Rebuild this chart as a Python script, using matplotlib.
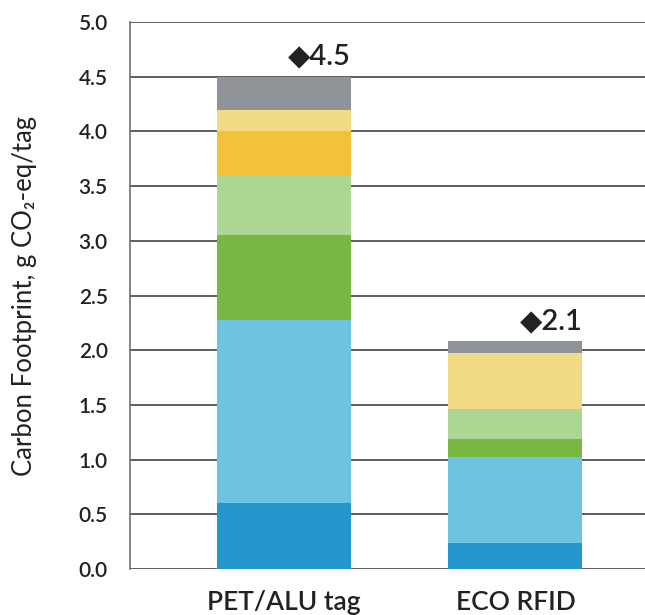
import matplotlib
matplotlib.use("Agg")
import matplotlib.pyplot as plt
import numpy as np

plt.rcParams['font.family'] = ['Lato', 'DejaVu Sans']
plt.rcParams['font.weight'] = 'semibold'

# Products and the stacked contributions (g CO2-eq per tag), bottom to top
products = ["PET/ALU tag", "ECO RFID"]
seg_dark_blue = [0.60, 0.24]
seg_light_blue = [1.68, 0.78]
seg_green = [0.77, 0.17]
seg_light_green = [0.55, 0.27]
seg_yellow = [0.40, 0.00]
seg_light_yellow = [0.20, 0.51]
seg_grey = [0.30, 0.11]

segments = [seg_dark_blue, seg_light_blue, seg_green, seg_light_green,
            seg_yellow, seg_light_yellow, seg_grey]
colors = ["#2596cd", "#6ec4e0", "#79b743", "#add695",
          "#f3c13a", "#f3da85", "#909397"]

y_ticks = [0.0, 0.5, 1.0, 1.5, 2.0, 2.5, 3.0, 3.5, 4.0, 4.5, 5.0]

fig = plt.figure(figsize=(6.45, 6.15), dpi=100)
ax = fig.add_axes([130 / 645, 1 - 569 / 615, 515 / 645, (569 - 22) / 615])

x = np.arange(len(products))
width = 0.578
bottom = np.zeros(len(products))
for vals, col in zip(segments, colors):
    ax.bar(x, vals, width, bottom=bottom, color=col, zorder=3, linewidth=0)
    bottom += np.array(vals)

# Total labels above each bar
for xi, total in zip(x, bottom):
    ax.annotate(f"\u25C6{total:.1f}", xy=(xi + width / 2, total),
                xytext=(0, 9), textcoords="offset points",
                ha="right", va="baseline", fontsize=21, color="#222222")

ax.set_xlim(-0.663, 1.559)
ax.set_ylim(0, 5.0)
ax.set_yticks(y_ticks)
ax.set_yticklabels([f"{t:.1f}" for t in y_ticks])
ax.set_xticks(x)
ax.set_xticklabels(products)

ax.yaxis.grid(True, color="#333333", linewidth=1.1, zorder=0)
ax.set_axisbelow(True)
for s in ["top", "right", "bottom"]:
    ax.spines[s].set_visible(False)
ax.spines["left"].set_color("#6e6e6e")
ax.spines["left"].set_linewidth(1.2)

ax.tick_params(axis="y", length=0, pad=16, labelsize=15, labelcolor="#222222")
ax.tick_params(axis="x", length=0, pad=15, labelsize=19, labelcolor="#222222")

ax.set_ylabel("Carbon Footprint, g CO\u2082-eq/tag", fontsize=18.5, color="#222222")
ax.yaxis.set_label_coords(-0.18, 0.5)

fig.savefig("out.png", dpi=100)
